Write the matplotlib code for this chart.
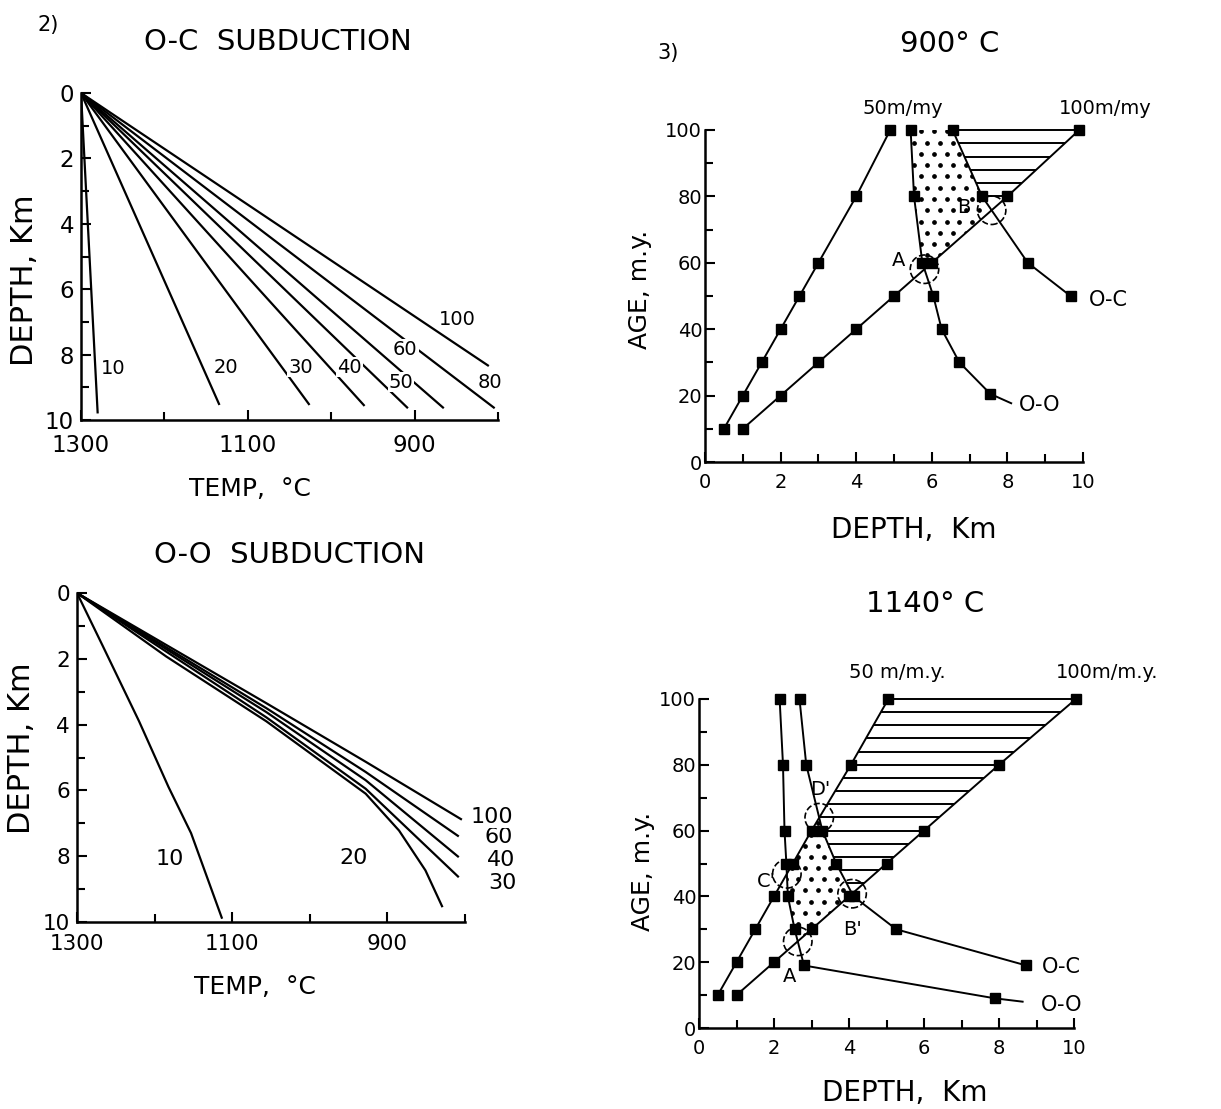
import numpy as np
import matplotlib
matplotlib.use("Agg")
import matplotlib.pyplot as plt
from matplotlib.patches import Polygon
from matplotlib.ticker import MultipleLocator, FixedLocator

W, H = 1221, 1109

# ---- panel 2, top: O-C subduction, temperature (C) vs depth (km), one curve per rate
oc_rates = ["10", "20", "30", "40", "50", "60", "80", "100"]
oc_temp = [[1300, 1280], [1300, 1134], [1300, 1026], [1300, 960],
           [1300, 908], [1300, 865], [1300, 804], [1300, 811]]
oc_depth = [[0, 9.8], [0, 9.54], [0, 9.54], [0, 9.57],
            [0, 9.64], [0, 9.64], [0, 9.64], [0, 8.35]]
oc_lab_temp = [1261, 1126, 1037, 978, 916, 911, 810, 849]
oc_lab_depth = [8.41, 8.38, 8.38, 8.38, 8.84, 7.83, 8.84, 6.94]

# ---- panel 2, bottom: O-O subduction
oo_rates = ["10", "20", "30", "40", "60", "100"]
oo_temp = [[1300, 1267, 1220, 1182, 1153, 1113],
           [1300, 1185, 1056, 928, 885, 851, 829],
           [1300, 1056, 928, 808],
           [1300, 1056, 928, 808],
           [1300, 1056, 928, 808],
           [1300, 1056, 928, 804]]
oo_depth = [[0, 1.6, 3.9, 5.9, 7.3, 9.9],
            [0, 1.93, 3.9, 6.1, 7.22, 8.43, 9.55],
            [0, 3.78, 5.95, 8.64],
            [0, 3.62, 5.69, 8.03],
            [0, 3.5, 5.44, 7.40],
            [0, 3.35, 5.13, 6.89]]
oo_lab_temp = [1181, 943, 752, 754, 756, 765]
oo_lab_depth = [8.07, 8.04, 8.80, 8.13, 7.43, 6.82]

# ---- panel 3, top: 900 C isotherm
rate_age = [10, 20, 30, 40, 50, 60, 80, 100]
t900_r50 = [0.5, 1, 1.5, 2, 2.5, 3, 4, 4.9]
t900_r100 = [1, 2, 3, 4, 5, 6, 8, 9.9]
t900_oo_age = [100, 80, 60, 50, 40, 30, 20.5]
t900_oo_depth = [5.44, 5.53, 5.75, 6.04, 6.26, 6.73, 7.55]
t900_oc_age = [100, 80, 60, 50]
t900_oc_depth = [6.55, 7.33, 8.54, 9.67]

# ---- panel 3, bottom: 1140 C isotherm
t1140_r50 = [0.5, 1, 1.5, 2, 2.5, 3, 4.05, 5.05]
t1140_r100 = [1, 2, 3, 4, 5, 6, 8, 10.05]
t1140_oo_age = [100, 80, 60, 50, 40, 30, 19, 9]
t1140_oo_depth = [2.15, 2.24, 2.28, 2.33, 2.37, 2.55, 2.8, 7.9]
t1140_oc_age = [100, 80, 60, 50, 40, 30, 19]
t1140_oc_depth = [2.68, 2.86, 3.29, 3.66, 4.12, 5.26, 8.73]

plt.rcParams["font.family"] = "DejaVu Sans"
fig = plt.figure(figsize=(W / 100, H / 100), dpi=100)


def box(x0, y0, x1, y1):
    # pixel box (top-left origin) -> figure fraction rect
    return [x0 / W, 1 - y1 / H, (x1 - x0) / W, (y1 - y0) / H]


def ftext(px, py, s, size, **kw):
    fig.text(px / W, 1 - py / H, s, fontsize=size, ha="center", va="center", **kw)


def style(ax, fs, xpad, ypad):
    for s in ["top", "right"]:
        ax.spines[s].set_visible(False)
    for s in ["left", "bottom"]:
        ax.spines[s].set_linewidth(1.8)
    ax.tick_params(which="both", direction="in", width=1.5, labelsize=fs,
                   top=False, right=False)
    ax.tick_params(which="major", length=7)
    ax.tick_params(which="minor", length=6)
    ax.tick_params(axis="x", pad=xpad)
    ax.tick_params(axis="y", pad=ypad)


def temp_panel(ax, temps, depths, rates, lab_t, lab_d, fs_lab, xpad, fs_tick):
    for t, d in zip(temps, depths):
        ax.plot(t, d, color="black", lw=1.6, solid_capstyle="butt")
    for r, t, d in zip(rates, lab_t, lab_d):
        ax.text(t, d, r, fontsize=fs_lab, ha="center", va="center",
                bbox=dict(fc="white", ec="none", pad=0.6))
    ax.set_xlim(1300, 800)
    ax.set_ylim(10, 0)
    ax.xaxis.set_major_locator(FixedLocator([1300, 1100, 900]))
    ax.xaxis.set_minor_locator(FixedLocator([1200, 1000, 800]))
    ax.yaxis.set_major_locator(MultipleLocator(2))
    ax.yaxis.set_minor_locator(MultipleLocator(1))
    style(ax, fs_tick, xpad, 5)


def fn(age, depth):
    order = np.argsort(age)
    return np.asarray(age, float)[order], np.asarray(depth, float)[order]


def meet(s1, s2):
    a1, d1 = s1
    a2, d2 = s2
    lo, hi = max(a1[0], a2[0]), min(a1[-1], a2[-1])
    grid = np.unique(np.concatenate([a1, a2]))
    grid = grid[(grid >= lo) & (grid <= hi)]
    diff = np.interp(grid, a1, d1) - np.interp(grid, a2, d2)
    for i in range(len(grid) - 1):
        if diff[i] == 0 or diff[i] * diff[i + 1] < 0:
            f = diff[i] / (diff[i] - diff[i + 1])
            a = grid[i] + f * (grid[i + 1] - grid[i])
            return np.interp(a, a1, d1), a
    return None


def piece(s, lo, hi):
    a, d = s
    inner = a[(a > lo) & (a < hi)]
    ages = np.concatenate([[lo], inner, [hi]])
    return np.column_stack([np.interp(ages, a, d), ages])


def age_panel(ax, r50, r100, oo, oc):
    s50 = fn(rate_age, r50)
    s100 = fn(rate_age, r100)
    for s in [s50, s100, oo, oc]:
        ax.plot(s[1], s[0], color="black", lw=1.4, marker="s", ms=7.5,
                clip_on=False, zorder=4)
    ax.set_xlim(0, 10)
    ax.set_ylim(0, 100)
    ax.xaxis.set_major_locator(MultipleLocator(2))
    ax.xaxis.set_minor_locator(MultipleLocator(1))
    ax.yaxis.set_major_locator(MultipleLocator(20))
    ax.yaxis.set_minor_locator(MultipleLocator(10))
    style(ax, 14, 8, 2)
    return s50, s100


def hatch(ax, verts):
    patch = Polygon(verts, closed=True, fc="none", ec="none")
    ax.add_patch(patch)
    lines = ax.hlines(np.arange(96, 0, -4), 0, 11, color="black", lw=1.4)
    lines.set_clip_path(patch)


def dots(ax, verts):
    patch = Polygon(verts, closed=True, fc="none", ec="none")
    ax.add_patch(patch)
    xs, ys = [], []
    for k, yy in enumerate(np.arange(1, 100, 3.4)):
        off = 0.17 if k % 2 else 0
        for xx in np.arange(0.1 + off, 10, 0.34):
            xs.append(xx)
            ys.append(yy)
    pts, = ax.plot(xs, ys, ls="none", marker="o", ms=2.4, color="black")
    pts.set_clip_path(patch)


def ring(ax, p):
    ax.scatter([p[0]], [p[1]], s=420, facecolors="none", edgecolors="black",
               linewidths=1.2, linestyles="--", zorder=5, clip_on=False)


# ---- top left
ax1 = fig.add_axes(box(81, 93, 498, 420))
temp_panel(ax1, oc_temp, oc_depth, oc_rates, oc_lab_temp, oc_lab_depth, 14, 10, 16.5)

# ---- bottom left
ax2 = fig.add_axes(box(77, 593, 465, 922))
temp_panel(ax2, oo_temp, oo_depth, oo_rates, oo_lab_temp, oo_lab_depth, 16, 9, 15.5)

# ---- top right, 900 C
ax3 = fig.add_axes(box(705, 130, 1083, 462))
oo = fn(t900_oo_age, t900_oo_depth)
oc = fn(t900_oc_age, t900_oc_depth)
s50, s100 = age_panel(ax3, t900_r50, t900_r100, oo, oc)
pA = meet(oo, s100)
pB = meet(oc, s100)
dots(ax3, np.vstack([piece(oo, pA[1], 100)[::-1], piece(s100, pA[1], pB[1]),
                     piece(oc, pB[1], 100)]))
hatch(ax3, np.vstack([piece(oc, pB[1], 100)[::-1], piece(s100, pB[1], 100)]))
ax3.plot([oc[1][-1], s100[1][-1]], [100, 100], color="black", lw=1.4, clip_on=False)
ring(ax3, pA)
ring(ax3, pB)
ax3.plot([oo[1][0], 8.1], [oo[0][0], 17.7], color="black", lw=1.4)
ax3.text(5.13, 60.8, "A", fontsize=14, ha="center", va="center")
ax3.text(6.86, 76.7, "B", fontsize=14, ha="center", va="center")
ax3.text(5.22, 106.6, "50m/my", fontsize=14, ha="center", va="center")
ax3.text(10.58, 106.6, "100m/my", fontsize=14, ha="center", va="center")
ax3.text(10.66, 48.7, "O-C", fontsize=15, ha="center", va="center")
ax3.text(8.85, 17.1, "O-O", fontsize=15, ha="center", va="center")

# ---- bottom right, 1140 C
ax4 = fig.add_axes(box(699, 699, 1074, 1028))
oo = fn(t1140_oo_age, t1140_oo_depth)
oc = fn(t1140_oc_age, t1140_oc_depth)
s50, s100 = age_panel(ax4, t1140_r50, t1140_r100, oo, oc)
pA = meet(oo, s100)
pB = meet(oc, s100)
pC = meet(oo, s50)
pD = meet(oc, s50)
dots(ax4, np.vstack([piece(s50, pC[1], pD[1]), piece(oc, pB[1], pD[1])[::-1],
                     piece(s100, pA[1], pB[1])[::-1], piece(oo, pA[1], pC[1])]))
hatch(ax4, np.vstack([piece(s50, pD[1], 100), piece(s100, pB[1], 100)[::-1],
                      piece(oc, pB[1], pD[1])]))
ax4.plot([s50[1][-1], s100[1][-1]], [100, 100], color="black", lw=1.4, clip_on=False)
for p in [pA, pB, pC, pD]:
    ring(ax4, p)
ax4.plot([oo[1][0], 8.63], [oo[0][0], 8.0], color="black", lw=1.4)
ax4.text(3.22, 72.4, "D'", fontsize=14, ha="center", va="center")
ax4.text(1.80, 44.5, "C'", fontsize=14, ha="center", va="center")
ax4.text(4.10, 30.0, "B'", fontsize=14, ha="center", va="center")
ax4.text(2.41, 15.6, "A", fontsize=14, ha="center", va="center")
ax4.text(5.30, 108.0, "50 m/m.y.", fontsize=14, ha="center", va="center")
ax4.text(10.87, 108.0, "100m/m.y.", fontsize=14, ha="center", va="center")
ax4.text(9.67, 18.6, "O-C", fontsize=15, ha="center", va="center")
ax4.text(9.67, 7.1, "O-O", fontsize=15, ha="center", va="center")

# ---- titles and axis labels
ftext(48, 25, "2)", 15)
ftext(278, 42, "O-C  SUBDUCTION", 21)
ftext(250, 489, "TEMP,  °C", 18)
ftext(25, 280, "DEPTH, Km", 22, rotation=90)
ftext(290, 555, "O-O  SUBDUCTION", 21)
ftext(255, 987, "TEMP,  °C", 18)
ftext(22, 748, "DEPTH, Km", 22, rotation=90)
ftext(668, 53, "3)", 15)
ftext(950, 44, "900° C", 21)
ftext(640, 289, "AGE, m.y.", 18, rotation=90)
ftext(914, 530, "DEPTH,  Km", 20)
ftext(925, 604, "1140° C", 21)
ftext(643, 871, "AGE, m.y.", 18, rotation=90)
ftext(905, 1093, "DEPTH,  Km", 20)

fig.savefig("out.png", dpi=100)
